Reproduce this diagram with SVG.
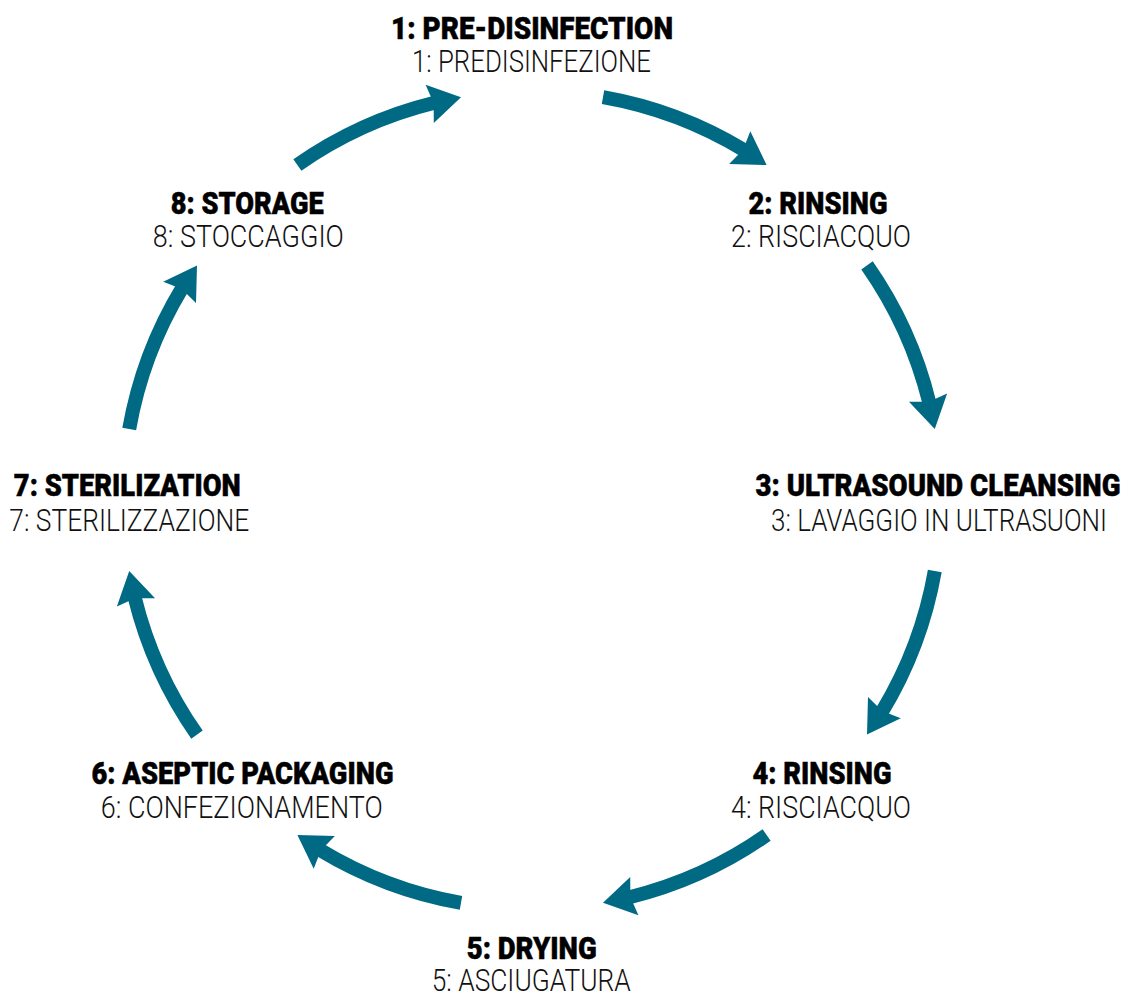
<svg xmlns="http://www.w3.org/2000/svg" xmlns:xlink="http://www.w3.org/1999/xlink" width="1126" height="998" viewBox="0 0 1126 998">
<style>
.b{font-family:Roboto,"Liberation Sans",Arial,sans-serif;font-weight:900;font-size:32px;fill:#000;stroke:#000;stroke-width:0.5;text-anchor:middle}
.r{font-family:Roboto,"Liberation Sans",Arial,sans-serif;font-weight:300;font-size:32px;fill:#111;text-anchor:middle}
.shaft{fill:none;stroke:#006A84;stroke-width:14}
.head{fill:#006A84}
</style>
<defs>
<g id="arrow">
<path class="shaft" d="M 603.0 97.2 A 409 409 0 0 1 743.9 150.1"/>
<polygon class="head" points="766.6,165.0 750.3,131.2 743.1,149.8 729.1,164.0"/>
</g>
</defs>
<rect width="1126" height="998" fill="#fff"/>
<g id="connectors">
<use xlink:href="#arrow" transform="rotate(0 532 500)"/>
<use xlink:href="#arrow" transform="rotate(45 532 500)"/>
<use xlink:href="#arrow" transform="rotate(90 532 500)"/>
<use xlink:href="#arrow" transform="rotate(135 532 500)"/>
<use xlink:href="#arrow" transform="rotate(180 532 500)"/>
<use xlink:href="#arrow" transform="rotate(225 532 500)"/>
<use xlink:href="#arrow" transform="rotate(270 532 500)"/>
<use xlink:href="#arrow" transform="rotate(315 532 500)"/>
</g>
<g id="node1">
<text class="b" x="532" y="38.5" textLength="282" lengthAdjust="spacingAndGlyphs">1: PRE-DISINFECTION</text>
<text class="r" x="531.5" y="72" textLength="239" lengthAdjust="spacingAndGlyphs">1: PREDISINFEZIONE</text>
</g>
<g id="node2">
<text class="b" x="818" y="213.5" textLength="139" lengthAdjust="spacingAndGlyphs">2: RINSING</text>
<text class="r" x="821" y="246.5" textLength="180" lengthAdjust="spacingAndGlyphs">2: RISCIACQUO</text>
</g>
<g id="node3">
<text class="b" x="938" y="496" textLength="365" lengthAdjust="spacingAndGlyphs">3: ULTRASOUND CLEANSING</text>
<text class="r" x="939" y="531" textLength="336" lengthAdjust="spacingAndGlyphs">3: LAVAGGIO IN ULTRASUONI</text>
</g>
<g id="node4">
<text class="b" x="822" y="783.5" textLength="139" lengthAdjust="spacingAndGlyphs">4: RINSING</text>
<text class="r" x="821" y="818" textLength="180" lengthAdjust="spacingAndGlyphs">4: RISCIACQUO</text>
</g>
<g id="node5">
<text class="b" x="531.7" y="958.5" textLength="130" lengthAdjust="spacingAndGlyphs">5: DRYING</text>
<text class="r" x="531.2" y="991" textLength="199" lengthAdjust="spacingAndGlyphs">5: ASCIUGATURA</text>
</g>
<g id="node6">
<text class="b" x="242.5" y="783.5" textLength="302" lengthAdjust="spacingAndGlyphs">6: ASEPTIC PACKAGING</text>
<text class="r" x="241.7" y="818" textLength="282" lengthAdjust="spacingAndGlyphs">6: CONFEZIONAMENTO</text>
</g>
<g id="node7">
<text class="b" x="127.3" y="496" textLength="227" lengthAdjust="spacingAndGlyphs">7: STERILIZATION</text>
<text class="r" x="129.3" y="531" textLength="240" lengthAdjust="spacingAndGlyphs">7: STERILIZZAZIONE</text>
</g>
<g id="node8">
<text class="b" x="247.3" y="213.5" textLength="153" lengthAdjust="spacingAndGlyphs">8: STORAGE</text>
<text class="r" x="248.3" y="246.5" textLength="191" lengthAdjust="spacingAndGlyphs">8: STOCCAGGIO</text>
</g>
</svg>
